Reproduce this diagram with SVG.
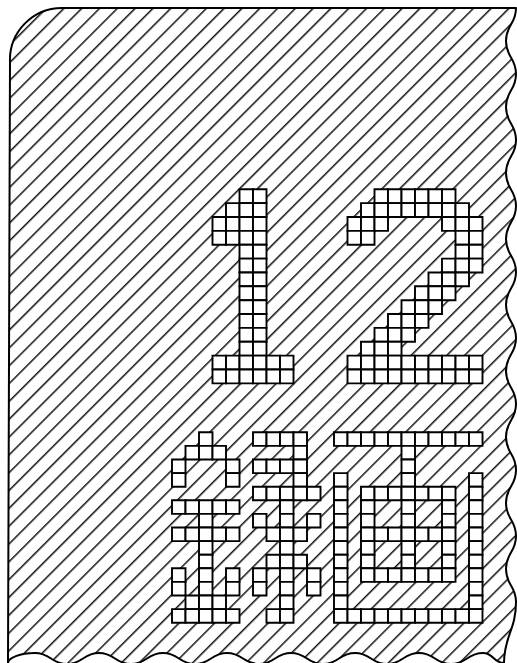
<svg xmlns="http://www.w3.org/2000/svg" xmlns:xlink="http://www.w3.org/1999/xlink" width="517" height="663" viewBox="0 0 517 663">
<style>
.cell{fill:#fff;stroke:#000;stroke-width:1.9;vector-effect:non-scaling-stroke}
.outline{fill:none;stroke:#000;stroke-width:2;stroke-linejoin:round}
</style>
<defs>
<pattern id="hatch" patternUnits="userSpaceOnUse" width="12.587" height="12.587" patternTransform="rotate(-45)">
<rect x="0" y="0.08" width="12.587" height="1.4" fill="#000"/>
</pattern>
<rect id="u" class="cell" width="1" height="1"/>
<path id="card" d="M62,8 L516,8 C516,24.5 506,24.5 506,41 S516,57.5 516,74 S506,90.5 506,107 S516,123.5 516,140 S506,156.5 506,173 S516,189.5 516,206 S506,222.5 506,239 S516,255.5 516,272 S506,288.5 506,305 S516,321.5 516,338 S506,354.5 506,371 S516,387.5 516,404 S506,420.5 506,437 S516,453.5 516,470 S506,486.5 506,503 S516,519.5 516,536 S506,552.5 506,569 S516,585.5 516,602 C516,630 504,636 504,663 C493,663 494,653 483,653 C467,653 467,664 451,664 S435,653 419,653 S403,664 387,664 S371,653 355,653 S339,664 323,664 S307,653 291,653 S275,664 259,664 S243,653 227,653 S211,664 195,664 S179,653 163,653 S147,664 131,664 S115,653 99,653 S83,664 67,664 S51,653 35,653 C20,653 8,658 8,663 L10,62 A52,52 0 0 1 62,8 Z"/>
</defs>
<rect width="517" height="663" fill="#fff"/>
<g id="card-sheet">
<use href="#card" fill="url(#hatch)"/>
<use href="#card" class="outline"/>
</g>
<g id="digit-1" transform="translate(212.5,189.3) scale(13.5,13.86)">
<use href="#u" x="2" y="0"/><use href="#u" x="3" y="0"/>
<use href="#u" x="1" y="1"/><use href="#u" x="2" y="1"/><use href="#u" x="3" y="1"/>
<use href="#u" x="0" y="2"/><use href="#u" x="1" y="2"/><use href="#u" x="2" y="2"/><use href="#u" x="3" y="2"/>
<use href="#u" x="0" y="3"/><use href="#u" x="1" y="3"/><use href="#u" x="2" y="3"/><use href="#u" x="3" y="3"/>
<use href="#u" x="2" y="4"/><use href="#u" x="3" y="4"/>
<use href="#u" x="2" y="5"/><use href="#u" x="3" y="5"/>
<use href="#u" x="2" y="6"/><use href="#u" x="3" y="6"/>
<use href="#u" x="2" y="7"/><use href="#u" x="3" y="7"/>
<use href="#u" x="2" y="8"/><use href="#u" x="3" y="8"/>
<use href="#u" x="2" y="9"/><use href="#u" x="3" y="9"/>
<use href="#u" x="2" y="10"/><use href="#u" x="3" y="10"/>
<use href="#u" x="2" y="11"/><use href="#u" x="3" y="11"/>
<use href="#u" x="0" y="12"/><use href="#u" x="1" y="12"/><use href="#u" x="2" y="12"/><use href="#u" x="3" y="12"/><use href="#u" x="4" y="12"/><use href="#u" x="5" y="12"/>
<use href="#u" x="0" y="13"/><use href="#u" x="1" y="13"/><use href="#u" x="2" y="13"/><use href="#u" x="3" y="13"/><use href="#u" x="4" y="13"/><use href="#u" x="5" y="13"/>
</g>
<g id="digit-2" transform="translate(347.5,189.3) scale(13.5,13.86)">
<use href="#u" x="2" y="0"/><use href="#u" x="3" y="0"/><use href="#u" x="4" y="0"/><use href="#u" x="5" y="0"/><use href="#u" x="6" y="0"/><use href="#u" x="7" y="0"/>
<use href="#u" x="1" y="1"/><use href="#u" x="2" y="1"/><use href="#u" x="3" y="1"/><use href="#u" x="4" y="1"/><use href="#u" x="5" y="1"/><use href="#u" x="6" y="1"/><use href="#u" x="7" y="1"/><use href="#u" x="8" y="1"/>
<use href="#u" x="0" y="2"/><use href="#u" x="1" y="2"/><use href="#u" x="2" y="2"/><use href="#u" x="7" y="2"/><use href="#u" x="8" y="2"/><use href="#u" x="9" y="2"/>
<use href="#u" x="0" y="3"/><use href="#u" x="1" y="3"/><use href="#u" x="8" y="3"/><use href="#u" x="9" y="3"/>
<use href="#u" x="8" y="4"/><use href="#u" x="9" y="4"/>
<use href="#u" x="7" y="5"/><use href="#u" x="8" y="5"/><use href="#u" x="9" y="5"/>
<use href="#u" x="6" y="6"/><use href="#u" x="7" y="6"/><use href="#u" x="8" y="6"/>
<use href="#u" x="5" y="7"/><use href="#u" x="6" y="7"/><use href="#u" x="7" y="7"/>
<use href="#u" x="4" y="8"/><use href="#u" x="5" y="8"/><use href="#u" x="6" y="8"/>
<use href="#u" x="3" y="9"/><use href="#u" x="4" y="9"/><use href="#u" x="5" y="9"/>
<use href="#u" x="2" y="10"/><use href="#u" x="3" y="10"/><use href="#u" x="4" y="10"/>
<use href="#u" x="1" y="11"/><use href="#u" x="2" y="11"/><use href="#u" x="3" y="11"/>
<use href="#u" x="0" y="12"/><use href="#u" x="1" y="12"/><use href="#u" x="2" y="12"/><use href="#u" x="3" y="12"/><use href="#u" x="4" y="12"/><use href="#u" x="5" y="12"/><use href="#u" x="6" y="12"/><use href="#u" x="7" y="12"/><use href="#u" x="8" y="12"/><use href="#u" x="9" y="12"/>
<use href="#u" x="0" y="13"/><use href="#u" x="1" y="13"/><use href="#u" x="2" y="13"/><use href="#u" x="3" y="13"/><use href="#u" x="4" y="13"/><use href="#u" x="5" y="13"/><use href="#u" x="6" y="13"/><use href="#u" x="7" y="13"/><use href="#u" x="8" y="13"/><use href="#u" x="9" y="13"/>
</g>
<g id="kanji-roku" transform="translate(172,432.3) scale(13.5,13.6)">
<use href="#u" x="2" y="0"/>
<use href="#u" x="1" y="1"/><use href="#u" x="2" y="1"/><use href="#u" x="3" y="1"/>
<use href="#u" x="0" y="2"/><use href="#u" x="4" y="2"/>
<use href="#u" x="0" y="3"/><use href="#u" x="4" y="3"/>
<use href="#u" x="0" y="5"/><use href="#u" x="1" y="5"/><use href="#u" x="2" y="5"/><use href="#u" x="3" y="5"/><use href="#u" x="4" y="5"/>
<use href="#u" x="2" y="6"/>
<use href="#u" x="0" y="7"/><use href="#u" x="1" y="7"/><use href="#u" x="2" y="7"/><use href="#u" x="3" y="7"/><use href="#u" x="4" y="7"/>
<use href="#u" x="2" y="8"/>
<use href="#u" x="2" y="9"/>
<use href="#u" x="0" y="10"/><use href="#u" x="2" y="10"/><use href="#u" x="4" y="10"/>
<use href="#u" x="0" y="11"/><use href="#u" x="2" y="11"/><use href="#u" x="4" y="11"/>
<use href="#u" x="1" y="12"/><use href="#u" x="2" y="12"/><use href="#u" x="3" y="12"/>
<use href="#u" x="0" y="13"/><use href="#u" x="1" y="13"/><use href="#u" x="2" y="13"/><use href="#u" x="3" y="13"/><use href="#u" x="4" y="13"/>
<use href="#u" x="6" y="0"/><use href="#u" x="7" y="0"/><use href="#u" x="8" y="0"/><use href="#u" x="9" y="0"/>
<use href="#u" x="9" y="1"/>
<use href="#u" x="6" y="2"/><use href="#u" x="7" y="2"/><use href="#u" x="8" y="2"/><use href="#u" x="9" y="2"/>
<use href="#u" x="9" y="3"/>
<use href="#u" x="6" y="4"/><use href="#u" x="7" y="4"/><use href="#u" x="8" y="4"/><use href="#u" x="9" y="4"/><use href="#u" x="10" y="4"/>
<use href="#u" x="8" y="5"/>
<use href="#u" x="6" y="6"/><use href="#u" x="8" y="6"/><use href="#u" x="10" y="6"/>
<use href="#u" x="7" y="7"/><use href="#u" x="8" y="7"/><use href="#u" x="9" y="7"/>
<use href="#u" x="8" y="8"/>
<use href="#u" x="7" y="9"/><use href="#u" x="8" y="9"/><use href="#u" x="9" y="9"/>
<use href="#u" x="6" y="10"/><use href="#u" x="8" y="10"/><use href="#u" x="10" y="10"/>
<use href="#u" x="6" y="11"/><use href="#u" x="8" y="11"/><use href="#u" x="10" y="11"/>
<use href="#u" x="8" y="12"/>
<use href="#u" x="7" y="13"/><use href="#u" x="8" y="13"/>
</g>
<g id="kanji-ga" transform="translate(334,432.3) scale(13.5,13.6)">
<use href="#u" x="0" y="0"/><use href="#u" x="1" y="0"/><use href="#u" x="2" y="0"/><use href="#u" x="3" y="0"/><use href="#u" x="4" y="0"/><use href="#u" x="5" y="0"/><use href="#u" x="6" y="0"/><use href="#u" x="7" y="0"/><use href="#u" x="8" y="0"/><use href="#u" x="9" y="0"/><use href="#u" x="10" y="0"/>
<use href="#u" x="5" y="1"/>
<use href="#u" x="5" y="2"/>
<use href="#u" x="0" y="3"/><use href="#u" x="5" y="3"/><use href="#u" x="10" y="3"/>
<use href="#u" x="0" y="4"/><use href="#u" x="2" y="4"/><use href="#u" x="3" y="4"/><use href="#u" x="4" y="4"/><use href="#u" x="5" y="4"/><use href="#u" x="6" y="4"/><use href="#u" x="7" y="4"/><use href="#u" x="8" y="4"/><use href="#u" x="10" y="4"/>
<use href="#u" x="0" y="5"/><use href="#u" x="2" y="5"/><use href="#u" x="5" y="5"/><use href="#u" x="8" y="5"/><use href="#u" x="10" y="5"/>
<use href="#u" x="0" y="6"/><use href="#u" x="2" y="6"/><use href="#u" x="5" y="6"/><use href="#u" x="8" y="6"/><use href="#u" x="10" y="6"/>
<use href="#u" x="0" y="7"/><use href="#u" x="2" y="7"/><use href="#u" x="3" y="7"/><use href="#u" x="4" y="7"/><use href="#u" x="5" y="7"/><use href="#u" x="6" y="7"/><use href="#u" x="7" y="7"/><use href="#u" x="8" y="7"/><use href="#u" x="10" y="7"/>
<use href="#u" x="0" y="8"/><use href="#u" x="2" y="8"/><use href="#u" x="5" y="8"/><use href="#u" x="8" y="8"/><use href="#u" x="10" y="8"/>
<use href="#u" x="0" y="9"/><use href="#u" x="2" y="9"/><use href="#u" x="5" y="9"/><use href="#u" x="8" y="9"/><use href="#u" x="10" y="9"/>
<use href="#u" x="0" y="10"/><use href="#u" x="2" y="10"/><use href="#u" x="3" y="10"/><use href="#u" x="4" y="10"/><use href="#u" x="5" y="10"/><use href="#u" x="6" y="10"/><use href="#u" x="7" y="10"/><use href="#u" x="8" y="10"/><use href="#u" x="10" y="10"/>
<use href="#u" x="0" y="11"/><use href="#u" x="10" y="11"/>
<use href="#u" x="0" y="12"/><use href="#u" x="10" y="12"/>
<use href="#u" x="0" y="13"/><use href="#u" x="1" y="13"/><use href="#u" x="2" y="13"/><use href="#u" x="3" y="13"/><use href="#u" x="4" y="13"/><use href="#u" x="5" y="13"/><use href="#u" x="6" y="13"/><use href="#u" x="7" y="13"/><use href="#u" x="8" y="13"/><use href="#u" x="9" y="13"/><use href="#u" x="10" y="13"/>
</g>
</svg>
